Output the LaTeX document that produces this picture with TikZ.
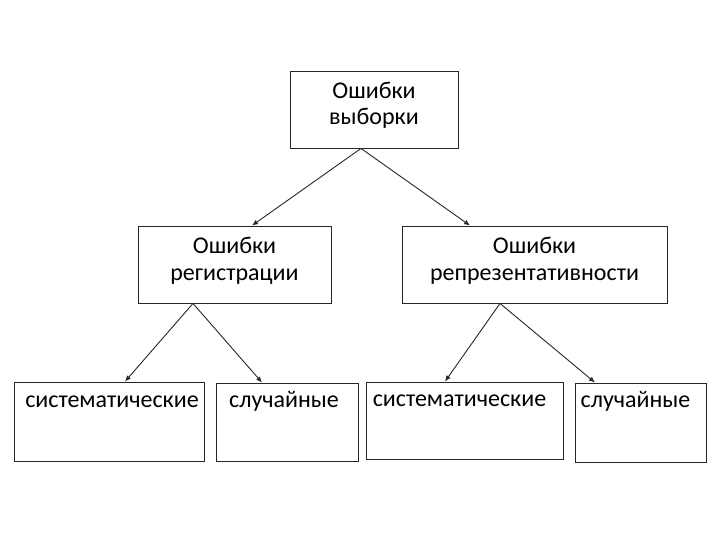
\documentclass[tikz,border=0pt]{standalone}
\usepackage{fontspec}
\setmainfont{Carlito}
\usetikzlibrary{arrows.meta}
\begin{document}
\begin{tikzpicture}[x=1pt,y=-1pt,
  box/.style={draw=black!85,line width=0.9pt,fill=white,inner sep=0pt},
  lb/.style={anchor=base,font=\fontsize{24}{29}\selectfont,inner sep=0pt},
  arr/.style={draw=black!85,line width=0.9pt,-{Latex[length=6pt,width=5pt]}}]
\useasboundingbox (0,0) rectangle (720,540);
\node[box,minimum width=168,minimum height=77] (top) at (374,109.5) {};
\node[box,minimum width=193,minimum height=77] (reg) at (234.5,264.5) {};
\node[box,minimum width=265,minimum height=77] (rep) at (534.5,264.5) {};
\node[box,minimum width=190,minimum height=79] (s1) at (109,421.5) {};
\node[box,minimum width=142,minimum height=78] (c1) at (287,422) {};
\node[box,minimum width=197,minimum height=77] (s2) at (464.5,420.5) {};
\node[box,minimum width=131,minimum height=79] (c2) at (640.5,422.5) {};
\node[lb] (topA) at ([yshift=10.5pt]top.center) {Ошибки};
\node[lb] (topB) at ([yshift=-15.5pt]top.center) {выборки};
\node[lb] (regA) at ([yshift=10.5pt]reg.center) {Ошибки};
\node[lb] (regB) at ([yshift=-15.5pt]reg.center) {регистрации};
\node[lb] (repA) at ([yshift=10.5pt]rep.center) {Ошибки};
\node[lb] (repB) at ([yshift=-15.5pt]rep.center) {репрезентативности};
\node[lb] (s1t) at ([yshift=-26pt,xshift=3pt]s1.north) {систематические};
\node[lb] (c1t) at ([yshift=-25pt,xshift=-3pt]c1.north) {случайные};
\node[lb] (s2t) at ([yshift=-25pt,xshift=-5pt]s2.north) {систематические};
\node[lb] (c2t) at ([yshift=-25pt,xshift=-5pt]c2.north) {случайные};
\draw[arr] ([xshift=-13pt]top.south) -- ([xshift=17.5pt]reg.north);
\draw[arr] ([xshift=-13pt]top.south) -- ([xshift=-64.5pt]rep.north);
\draw[arr] ([xshift=-41.5pt]reg.south) -- ([xshift=16pt]s1.north);
\draw[arr] ([xshift=-41.5pt]reg.south) -- ([xshift=-25pt]c1.north);
\draw[arr] ([xshift=-34.5pt]rep.south) -- ([xshift=-19.5pt]s2.north);
\draw[arr] ([xshift=-34.5pt]rep.south) -- ([xshift=-45.5pt]c2.north);
\end{tikzpicture}
\end{document}
